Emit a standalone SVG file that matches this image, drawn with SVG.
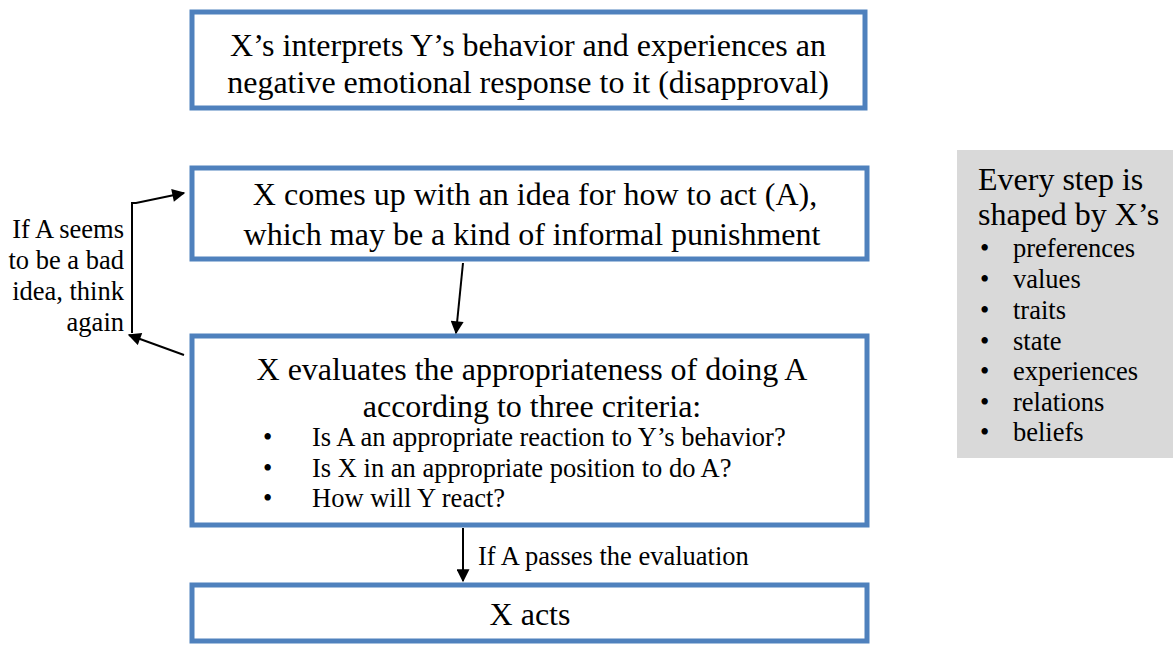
<svg xmlns="http://www.w3.org/2000/svg" width="1173" height="646" viewBox="0 0 1173 646" font-family="'Liberation Serif', 'Times New Roman', serif">
<defs>
<style>
.box{fill:#fff;stroke:#4F81BD;stroke-width:5}
.t{font-family:'Liberation Serif','Times New Roman',serif;fill:#000}
.big{font-size:32px}
.sm{font-size:26.5px}
.c{text-anchor:middle}
.r{text-anchor:end}
.con{stroke:#000;stroke-width:2;fill:none}
</style>
<marker id="ah" viewBox="0 0 10 10" refX="9" refY="5" markerWidth="15" markerHeight="13" markerUnits="userSpaceOnUse" orient="auto">
<path d="M0,0 L10,5 L0,10 z" fill="#000"/>
</marker>
</defs>
<rect width="1173" height="646" fill="#fff"/>

<g id="n1">
<rect class="box" x="192" y="12" width="673" height="96"/>
<text class="t big c" x="528" y="56">X’s interprets Y’s behavior and experiences an</text>
<text class="t big c" x="528" y="93">negative emotional response to it (disapproval)</text>
</g>

<g id="n2">
<rect class="box" x="192" y="168" width="675" height="91"/>
<text class="t big c" x="535" y="205">X comes up with an idea for how to act (A),</text>
<text class="t big c" x="532" y="245">which may be a kind of informal punishment</text>
</g>

<g id="n3">
<rect class="box" x="192" y="336" width="675" height="189"/>
<text class="t big c" x="532" y="380">X evaluates the appropriateness of doing A</text>
<text class="t big c" x="532" y="417">according to three criteria:</text>
<text class="t sm" x="263" y="446">•</text>
<text class="t sm" x="312" y="446">Is A an appropriate reaction to Y’s behavior?</text>
<text class="t sm" x="263" y="477">•</text>
<text class="t sm" x="312" y="477">Is X in an appropriate position to do A?</text>
<text class="t sm" x="263" y="507">•</text>
<text class="t sm" x="312" y="507">How will Y react?</text>
</g>

<g id="n4">
<rect class="box" x="192" y="585" width="675" height="56"/>
<text class="t big c" x="530" y="625">X acts</text>
</g>

<g id="side">
<rect x="957" y="150" width="216" height="308" fill="#D9D9D9"/>
<text class="t big" x="978" y="190">Every step is</text>
<text class="t big" x="978" y="225">shaped by X’s</text>
<g class="t sm">
<text x="980" y="257">•</text><text x="1013" y="257">preferences</text>
<text x="980" y="288">•</text><text x="1013" y="288">values</text>
<text x="980" y="319">•</text><text x="1013" y="319">traits</text>
<text x="980" y="350">•</text><text x="1013" y="350">state</text>
<text x="980" y="380">•</text><text x="1013" y="380">experiences</text>
<text x="980" y="411">•</text><text x="1013" y="411">relations</text>
<text x="980" y="441">•</text><text x="1013" y="441">beliefs</text>
</g>
</g>

<g id="loop-label">
<text class="t sm r" x="124" y="238">If A seems</text>
<text class="t sm r" x="124" y="269">to be a bad</text>
<text class="t sm r" x="124" y="300">idea, think</text>
<text class="t sm r" x="124" y="331">again</text>
</g>

<g id="connectors">
<path class="con" d="M463,263 L456,333" marker-end="url(#ah)"/>
<path class="con" d="M463,528 L463,581" marker-end="url(#ah)"/>
<path class="con" d="M184,355 L129,335" marker-end="url(#ah)"/>
<path class="con" d="M132,333 L132,203 L136,203 L184,193" marker-end="url(#ah)"/>
<text class="t sm" x="478" y="565">If A passes the evaluation</text>
</g>
</svg>
